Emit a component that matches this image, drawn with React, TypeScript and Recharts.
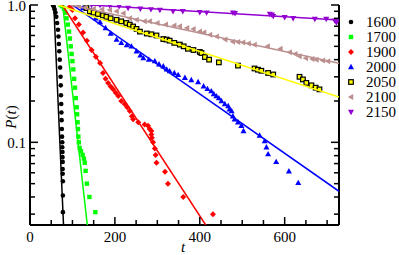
import React from 'react';
import { ScatterChart, Scatter, XAxis, YAxis } from 'recharts';

const FONT = '"Liberation Serif", "Times New Roman", serif';
const TXT = { fontFamily: FONT, fontSize: 15 };

// ---- data: [t, P(t)] ----
const s1600: [number, number][] = [
  [54, 1.0], [56, 0.97], [58, 0.93], [60, 0.88], [62, 0.82], [64, 0.74], [66, 0.66], [67, 0.59],
  [68, 0.52], [69, 0.46], [70, 0.4], [71, 0.35], [72, 0.3], [72.5, 0.26], [73, 0.22], [73.5, 0.19],
  [74, 0.165], [74.5, 0.145], [75, 0.125], [75.5, 0.11], [76, 0.1], [76, 0.092], [76.5, 0.085],
  [76.5, 0.078], [77, 0.072], [77, 0.064], [77, 0.059], [77.5, 0.052], [77.5, 0.041], [77.5, 0.031],
];
const s1700: [number, number][] = [
  [72, 1.0], [76, 0.98], [80, 0.94], [83, 0.88], [86, 0.8], [89, 0.72], [92, 0.64], [94, 0.57],
  [96, 0.5], [98, 0.44], [100, 0.39], [102, 0.34], [104, 0.29], [106, 0.25], [108, 0.21], [110, 0.18],
  [111, 0.16], [112, 0.14], [113, 0.125], [114, 0.11], [115, 0.1], [117, 0.091], [120, 0.086],
  [124, 0.081], [127, 0.076], [129, 0.071], [131, 0.062], [134, 0.05], [140, 0.04], [154, 0.031],
];
const s1900: [number, number][] = [
  [94, 0.97], [100, 0.92], [106, 0.8], [115, 0.72], [125, 0.63], [134, 0.55], [145, 0.47], [155, 0.42],
  [165, 0.378], [172, 0.32], [178, 0.29], [184, 0.27], [190, 0.255], [196, 0.243], [202, 0.23],
  [208, 0.217], [215, 0.2], [223, 0.19], [229, 0.18], [235, 0.169], [240, 0.155], [243, 0.147],
  [255, 0.14], [270, 0.135], [278, 0.132], [282, 0.125], [286, 0.121], [286, 0.114], [287, 0.108],
  [290, 0.1], [294, 0.09], [296, 0.081], [298, 0.071], [318, 0.061], [325, 0.05], [361, 0.04], [431, 0.03],
];
const s2000: [number, number][] = [
  [115, 1.0], [125, 0.95], [140, 0.88], [155, 0.8], [165, 0.75], [178, 0.68], [190, 0.62], [204, 0.56],
  [215, 0.53], [228, 0.51], [239, 0.5], [251, 0.46], [260, 0.43], [267, 0.41], [280, 0.4], [294, 0.39],
  [304, 0.37], [314, 0.358], [322, 0.34], [329, 0.33], [340, 0.32], [349, 0.31], [365, 0.295],
  [380, 0.284], [396, 0.275], [409, 0.256], [418, 0.245], [427, 0.236], [433, 0.225], [439, 0.217],
  [445, 0.21], [451, 0.2], [459, 0.19], [467, 0.184], [470, 0.174], [475, 0.169], [478, 0.155],
  [482, 0.147], [490, 0.14], [498, 0.132], [503, 0.121], [541, 0.112], [553, 0.102], [557, 0.092],
  [561, 0.082], [580, 0.072], [610, 0.0615], [632, 0.0507],
];
const s2050: [number, number][] = [
  [133, 0.95], [141, 0.9], [150, 0.88], [160, 0.86], [172, 0.84], [180, 0.82], [190, 0.8], [204, 0.78],
  [215, 0.76], [227, 0.74], [235, 0.72], [243, 0.697], [251, 0.67], [259, 0.64], [275, 0.62],
  [286, 0.612], [298, 0.6], [314, 0.565], [322, 0.56], [329, 0.55], [340, 0.53], [353, 0.515],
  [362, 0.5], [372, 0.48], [385, 0.47], [400, 0.455], [404, 0.447], [412, 0.418], [422, 0.4],
  [445, 0.382], [490, 0.362], [529, 0.345], [537, 0.338], [545, 0.332], [561, 0.32], [573, 0.312],
  [635, 0.3], [643, 0.287], [651, 0.271], [663, 0.26], [673, 0.25], [682, 0.243],
];
const s2100: [number, number][] = [
  [100, 1.0], [115, 0.98], [130, 0.96], [150, 0.94], [170, 0.93], [188, 0.92], [204, 0.9], [220, 0.87],
  [235, 0.8], [251, 0.78], [270, 0.76], [282, 0.76], [300, 0.74], [320, 0.72], [340, 0.71], [353, 0.7],
  [370, 0.68], [385, 0.67], [400, 0.64], [410, 0.63], [424, 0.607], [440, 0.59], [460, 0.56],
  [478, 0.54], [490, 0.538], [502, 0.534], [515, 0.525], [529, 0.514], [560, 0.5], [590, 0.48],
  [612, 0.452], [625, 0.44], [635, 0.423], [650, 0.41], [665, 0.405], [675, 0.4], [690, 0.395], [702, 0.389],
];
const s2150: [number, number][] = [
  [145, 1.0], [165, 1.0], [188, 0.99], [210, 0.98], [231, 0.95], [260, 0.94], [285, 0.93], [306, 0.92],
  [337, 0.9], [360, 0.9], [400, 0.885], [416, 0.88], [478, 0.88], [483, 0.87], [565, 0.86], [570, 0.85],
  [573, 0.83], [600, 0.815], [620, 0.8], [671, 0.79], [698, 0.79], [718, 0.77], [722, 0.745],
];

// exponential fits (straight on the semi-log plot): [t, P]
const fit1600: [number, number][] = [[56, 1], [79, 0.025]];
const fit1700: [number, number][] = [[77, 1], [135, 0.025]];
const fit1900: [number, number][] = [[76, 1], [414, 0.025]];
const fit2000: [number, number][] = [[100, 1], [728, 0.044]];
const fit2050: [number, number][] = [[66, 1], [728, 0.214]];
const fit2100: [number, number][] = [[95, 1], [728, 0.376]];
const fit2150: [number, number][] = [[143, 1], [728, 0.776]];

const xTicks = [0, 50, 100, 150, 200, 250, 300, 350, 400, 450, 500, 550, 600, 650, 700];
const xLabels = [0, 200, 400, 600];
const yTicks = [0.03, 0.04, 0.05, 0.06, 0.07, 0.08, 0.09, 0.1, 0.2, 0.3, 0.4, 0.5, 0.6, 0.7, 0.8, 0.9, 1];
const yLabels: Record<string, string> = { '0.1': '0.1', '1': '1.0' };
const yMajors = [0.1, 1];

const X_DOMAIN: [number, number] = [0, 728];
const Y_DOMAIN: [number, number] = [0.025, 1];

type ShapeName = 'circle' | 'square' | 'diamond' | 'up' | 'boxed' | 'left' | 'down';

const SERIES: { name: string; color: string; shape: ShapeName; pts: [number, number][]; fit: [number, number][] }[] = [
  { name: '1600', color: '#000000', shape: 'circle', pts: s1600, fit: fit1600 },
  { name: '1700', color: '#00ff00', shape: 'square', pts: s1700, fit: fit1700 },
  { name: '1900', color: '#ff0000', shape: 'diamond', pts: s1900, fit: fit1900 },
  { name: '2000', color: '#0000ff', shape: 'up', pts: s2000, fit: fit2000 },
  { name: '2050', color: '#ffff00', shape: 'boxed', pts: s2050, fit: fit2050 },
  { name: '2100', color: '#bc8f8f', shape: 'left', pts: s2100, fit: fit2100 },
  { name: '2150', color: '#9400d3', shape: 'down', pts: s2150, fit: fit2150 },
];

const toRows = (a: [number, number][]) => a.map(([t, p]) => ({ t, p }));

function Marker({ cx, cy, shape, color }: { cx: number; cy: number; shape: ShapeName; color: string }) {
  if (cx == null || cy == null || isNaN(cx) || isNaN(cy)) return <g />;
  switch (shape) {
    case 'circle':
      return <circle cx={cx} cy={cy} r={2.3} fill={color} />;
    case 'square':
      return <rect x={cx - 2.2} y={cy - 2.2} width={4.4} height={4.4} fill={color} />;
    case 'diamond':
      return <polygon points={`${cx},${cy - 3} ${cx + 3},${cy} ${cx},${cy + 3} ${cx - 3},${cy}`} fill={color} />;
    case 'up':
      return <polygon points={`${cx},${cy - 3.2} ${cx + 3},${cy + 2.2} ${cx - 3},${cy + 2.2}`} fill={color} />;
    case 'down':
      return <polygon points={`${cx},${cy + 3.2} ${cx + 3},${cy - 2.2} ${cx - 3},${cy - 2.2}`} fill={color} />;
    case 'left':
      return <polygon points={`${cx - 3.2},${cy} ${cx + 2.2},${cy - 3} ${cx + 2.2},${cy + 3}`} fill={color} />;
    case 'boxed':
      return <rect x={cx - 2.3} y={cy - 2.3} width={4.6} height={4.6} fill={color} stroke="#000" strokeWidth={1.2} />;
  }
  return <g />;
}

const BottomTick = (props: any) => {
  const { x, y, payload } = props;
  const v = payload.value;
  const major = xLabels.includes(v);
  return (
    <g>
      <line x1={x} x2={x} y1={y} y2={y - (major ? 8 : 5)} stroke="#000" strokeWidth={1.5} />
      {major && (
        <text x={x} y={y + 12} textAnchor="middle" dominantBaseline="central" style={TXT} fill="#000">
          {v}
        </text>
      )}
    </g>
  );
};
const TopTick = (props: any) => {
  const { x, y, payload } = props;
  const major = xLabels.includes(payload.value);
  return <line x1={x} x2={x} y1={y} y2={y + (major ? 8 : 5)} stroke="#000" strokeWidth={1.5} />;
};
const LeftTick = (props: any) => {
  const { x, y, payload } = props;
  const v = payload.value;
  const major = yMajors.some((m) => Math.abs(m - v) < 1e-9);
  const label = yLabels[String(v)];
  return (
    <g>
      <line x1={x} x2={x + (major ? 8 : 5)} y1={y} y2={y} stroke="#000" strokeWidth={1.5} />
      {label && (
        <text x={x - 4} y={y + 1} textAnchor="end" dominantBaseline="central" style={TXT} fill="#000">
          {label}
        </text>
      )}
    </g>
  );
};
const RightTick = (props: any) => {
  const { x, y, payload } = props;
  const v = payload.value;
  const major = yMajors.some((m) => Math.abs(m - v) < 1e-9);
  return <line x1={x} x2={x - (major ? 8 : 5)} y1={y} y2={y} stroke="#000" strokeWidth={1.5} />;
};

function LegendBox() {
  return (
    <g>
      {SERIES.map((s, i) => (
        <g key={s.name}>
          <Marker cx={351} cy={22 + i * 15} shape={s.shape} color={s.color} />
          <text x={366} y={22 + i * 15} dominantBaseline="central" style={TXT} fill="#000">
            {s.name}
          </text>
        </g>
      ))}
      <text x={183} y={247} textAnchor="middle" dominantBaseline="central" style={{ ...TXT, fontStyle: 'italic' }} fill="#000">
        t
      </text>
      <text
        x={11}
        y={117}
        transform="rotate(-90 11 117)"
        textAnchor="middle"
        dominantBaseline="central"
        style={TXT}
        fill="#000"
      >
        <tspan style={{ fontStyle: 'italic' }}>P</tspan>(<tspan style={{ fontStyle: 'italic' }}>t</tspan>)
      </text>
    </g>
  );
}

export default function App() {
  return (
    <div style={{ position: 'absolute', left: 0, top: 0, width: 399, height: 255, background: '#fff', fontFamily: FONT }}>
      <ScatterChart width={399} height={255} margin={{ top: 5, right: 0, bottom: 0, left: 0 }} style={{ fontFamily: FONT }}>
        <XAxis
          xAxisId="b"
          dataKey="t"
          type="number"
          domain={X_DOMAIN}
          allowDataOverflow
          ticks={xTicks}
          interval={0}
          height={30}
          tickLine={false}
          tickSize={0}
          tickMargin={0}
          axisLine={{ stroke: '#000', strokeWidth: 2 }}
          tick={BottomTick}
        />
        <XAxis
          xAxisId="top"
          orientation="top"
          dataKey="t"
          type="number"
          domain={X_DOMAIN}
          allowDataOverflow
          ticks={xTicks}
          interval={0}
          height={0}
          tickLine={false}
          tickSize={0}
          tickMargin={0}
          axisLine={{ stroke: '#000', strokeWidth: 2 }}
          tick={TopTick}
        />
        <YAxis
          yAxisId="l"
          dataKey="p"
          type="number"
          scale="log"
          domain={Y_DOMAIN}
          allowDataOverflow
          ticks={yTicks}
          interval={0}
          width={30}
          tickLine={false}
          tickSize={0}
          tickMargin={0}
          axisLine={{ stroke: '#000', strokeWidth: 2 }}
          tick={LeftTick}
        />
        <YAxis
          yAxisId="r"
          orientation="right"
          dataKey="p"
          type="number"
          scale="log"
          domain={Y_DOMAIN}
          allowDataOverflow
          ticks={yTicks}
          interval={0}
          width={60}
          tickLine={false}
          tickSize={0}
          tickMargin={0}
          axisLine={{ stroke: '#000', strokeWidth: 2 }}
          tick={RightTick}
        />
        {SERIES.map((s) => (
          <Scatter
            key={'p' + s.name}
            name={s.name}
            xAxisId="b"
            yAxisId="l"
            data={toRows(s.pts)}
            isAnimationActive={false}
            shape={(props: any) => <Marker cx={props.cx} cy={props.cy} shape={s.shape} color={s.color} />}
          />
        ))}
        {SERIES.map((s) => (
          <Scatter
            key={'f' + s.name}
            name={s.name + ' fit'}
            xAxisId="b"
            yAxisId="l"
            data={toRows(s.fit)}
            isAnimationActive={false}
            line={{ stroke: s.color, strokeWidth: 1.5 }}
            lineType="joint"
            shape={() => <g />}
            legendType="none"
          />
        ))}
        <LegendBox />
      </ScatterChart>
    </div>
  );
}
